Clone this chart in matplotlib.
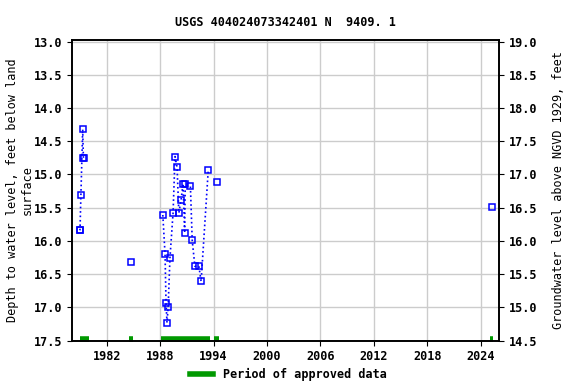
import numpy as np
import matplotlib.pyplot as plt

# measurement dates (decimal years) and depth to water, ft below land surface
years = [1978.95, 1979.0, 1979.1, 1979.3, 1979.38, 1979.42,
         1984.7,
         1988.3, 1988.55, 1988.66, 1988.77, 1988.9, 1989.1, 1989.45, 1989.67,
         1989.9, 1990.1, 1990.35, 1990.57, 1990.75, 1990.82, 1991.4, 1991.6,
         1991.9, 1992.35, 1992.6, 1993.4,
         1994.4,
         2025.27]
depth = [15.84, 15.83, 15.31, 14.32, 14.75, 14.75,
         16.31,
         15.61, 16.20, 16.93, 17.23, 16.99, 16.26, 15.58, 14.73,
         14.89, 15.58, 15.38, 15.14, 15.88, 15.15, 15.18, 15.99,
         16.38, 16.38, 16.61, 14.94,
         15.11,
         15.49]

# periods of approved data
approved = [(1979.0, 1980.0), (1984.5, 1985.0), (1988.1, 1993.6),
            (1994.1, 1994.6), (2025.05, 2025.4)]

title = "USGS 404024073342401 N  9409. 1"
offset = 32.0  # land surface datum, ft NGVD 1929

plt.rcParams['font.family'] = 'DejaVu Sans Mono'
plt.rcParams['font.weight'] = 'bold'
plt.rcParams['font.size'] = 8.5

fig = plt.figure(figsize=(5.76, 3.84), dpi=100)
ax = fig.add_axes([0.125, 0.113, 0.742, 0.784])

# connect points only within continuous groups
yrs = np.array(years)
dep = np.array(depth)
breaks = np.where(np.diff(yrs) > 0.9)[0] + 1
for seg_x, seg_y in zip(np.split(yrs, breaks), np.split(dep, breaks)):
    ax.plot(seg_x, seg_y, color='blue', linestyle=':', linewidth=1.2)
ax.plot(yrs, dep, linestyle='none', marker='s', markersize=4,
        markerfacecolor='none', markeredgecolor='blue', markeredgewidth=1.1)

for a, b in approved:
    ax.plot([a, b], [17.48, 17.48], color='#009900', linewidth=4,
            solid_capstyle='butt', clip_on=False)

ax.set_xlim(1978.1, 2026.1)
ax.set_ylim(17.5, 12.97)
ax.set_xticks(np.arange(1982, 2025, 6))
ax.set_yticks(np.arange(13.0, 17.51, 0.5))
ax.yaxis.set_major_formatter(plt.FormatStrFormatter('%.1f'))
ax.grid(True, color='#cccccc', linewidth=1)
ax.set_axisbelow(True)
ax.set_ylabel('Depth to water level, feet below land\nsurface', labelpad=0)
ax.set_title(title, fontsize=8.5, fontweight='bold', pad=10)

ax2 = ax.twinx()
lo, hi = ax.get_ylim()
ax2.set_ylim(offset - lo, offset - hi)
ax2.set_yticks(np.arange(14.5, 19.01, 0.5))
ax2.yaxis.set_major_formatter(plt.FormatStrFormatter('%.1f'))
ax2.set_ylabel('Groundwater level above NGVD 1929, feet', labelpad=10)

for a in (ax, ax2):
    for s in a.spines.values():
        s.set_linewidth(1.2)

ax.plot([], [], color='#009900', linewidth=4, label='Period of approved data')
fig.legend(loc='lower center', bbox_to_anchor=(0.5, -0.02), frameon=False,
           handlelength=2.0)

fig.savefig('out.png', dpi=100)
